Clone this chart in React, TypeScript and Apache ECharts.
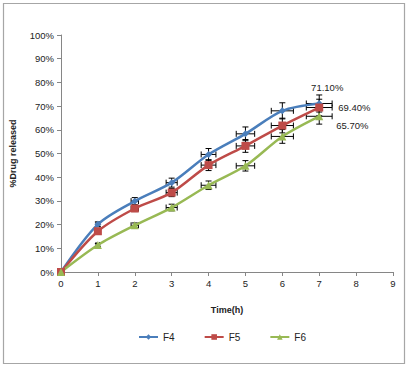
import React, { useEffect, useRef } from "react";
import * as echarts from "echarts";

const hours = [0, 1, 2, 3, 4, 5, 6, 7];
const f4 = [0, 20.1, 29.9, 37.7, 49.6, 58.3, 68.0, 71.1];
const f5 = [0, 17.2, 26.8, 33.5, 45.1, 53.2, 61.8, 69.4];
const f6 = [0, 11.4, 19.7, 27.2, 36.6, 44.8, 57.2, 65.7];
const xErr = [0, 0.05, 0.1, 0.15, 0.2, 0.25, 0.3, 0.35];
const f4Err = [0, 1.0, 1.5, 1.9, 2.5, 2.9, 3.4, 3.6];
const f5Err = [0, 0.9, 1.3, 1.7, 2.3, 2.7, 3.1, 3.5];
const f6Err = [0, 0.6, 1.0, 1.4, 1.8, 2.2, 2.9, 3.3];
const endLabels = ["71.10%", "69.40%", "65.70%"];

const FONT = "Liberation Sans, Arial, sans-serif";

const errSeries = (name: string, vals: number[], errs: number[]) => ({
  type: "custom",
  name,
  z: 1,
  silent: true,
  data: hours.map((h, i) => [h, vals[i], xErr[i], errs[i]]),
  renderItem: (params: any, api: any) => {
    const x = api.value(0), y = api.value(1), xe = api.value(2), ye = api.value(3);
    if (!xe && !ye) return { type: "group", children: [] };
    const l = api.coord([x - xe, y]);
    const r = api.coord([x + xe, y]);
    const t = api.coord([x, y + ye]);
    const b = api.coord([x, y - ye]);
    const style = { stroke: "#000", lineWidth: 1 };
    const c = 3;
    const ln = (x1: number, y1: number, x2: number, y2: number) => ({
      type: "line",
      shape: { x1, y1, x2, y2 },
      style,
    });
    return {
      type: "group",
      children: [
        ln(l[0], l[1], r[0], r[1]),
        ln(l[0], l[1] - c, l[0], l[1] + c),
        ln(r[0], r[1] - c, r[0], r[1] + c),
        ln(t[0], t[1], b[0], b[1]),
        ln(t[0] - c, t[1], t[0] + c, t[1]),
        ln(b[0] - c, b[1], b[0] + c, b[1]),
      ],
    };
  },
});

const lineSeries = (
  name: string,
  vals: number[],
  color: string,
  symbol: string,
  size: number,
  label: string,
  labelPos: string,
  offset: number[]
) => ({
  type: "line",
  name,
  z: 3,
  smooth: 0.3,
  symbol,
  symbolSize: size,
  showAllSymbol: true,
  lineStyle: { color, width: 2.5 },
  itemStyle: { color },
  data: hours.map((h, i) =>
    i === hours.length - 1
      ? {
          value: [h, vals[i]],
          label: {
            show: true,
            formatter: label,
            position: labelPos,
            offset,
            color: "#222",
            fontSize: 9.5,
            fontFamily: FONT,
          },
        }
      : [h, vals[i]]
  ),
});

export default function App() {
  const ref = useRef<HTMLDivElement>(null);
  useEffect(() => {
    if (!ref.current) return;
    const chart = echarts.init(ref.current, null, { renderer: "svg" });
    chart.setOption({
      animation: false,
      backgroundColor: "#fff",
      textStyle: { fontFamily: FONT },
      graphic: [
        {
          type: "rect",
          shape: { x: 3.5, y: 3.5, width: 401, height: 360 },
          style: { fill: "none", stroke: "#a6a6a6", lineWidth: 1.2 },
          silent: true,
        },
      ],
      grid: { left: 59, right: 16, top: 35, bottom: 95, containLabel: false },
      xAxis: {
        type: "value",
        min: 0,
        max: 9,
        interval: 1,
        name: "Time(h)",
        nameLocation: "middle",
        nameGap: 33,
        nameTextStyle: { fontWeight: "bold", fontSize: 9, color: "#222", fontFamily: FONT },
        axisLine: { lineStyle: { color: "#868686" } },
        axisTick: { show: true, length: 4, lineStyle: { color: "#868686" } },
        axisLabel: { fontSize: 9.5, color: "#222", margin: 6, fontFamily: FONT },
        splitLine: { show: false },
      },
      yAxis: {
        type: "value",
        min: 0,
        max: 100,
        interval: 10,
        name: "%Drug released",
        nameLocation: "middle",
        nameGap: 44,
        nameRotate: 90,
        nameTextStyle: { fontWeight: "bold", fontSize: 9, color: "#222", fontFamily: FONT },
        axisLine: { show: true, lineStyle: { color: "#868686" } },
        axisTick: { show: true, length: 4, lineStyle: { color: "#868686" } },
        axisLabel: { fontSize: 9.5, color: "#222", margin: 7, formatter: "{value}%", fontFamily: FONT },
        splitLine: { show: false },
      },
      legend: {
        data: ["F4", "F5", "F6"],
        bottom: 20,
        left: 133,
        padding: 5,
        itemWidth: 19,
        itemHeight: 7,
        itemGap: 29,
        textStyle: { fontSize: 10, color: "#222", fontFamily: FONT },
      },
      series: [
        errSeries("eF4", f4, f4Err),
        errSeries("eF5", f5, f5Err),
        errSeries("eF6", f6, f6Err),
        lineSeries("F4", f4, "#4A7EBB", "diamond", 7, endLabels[0], "top", [8, -2]),
        lineSeries("F5", f5, "#BE4B48", "rect", 8, endLabels[1], "right", [10, 0]),
        lineSeries("F6", f6, "#98B954", "triangle", 8, endLabels[2], "right", [8, 9]),
      ],
    });
    return () => chart.dispose();
  }, []);
  return (
    <div
      ref={ref}
      style={{ position: "absolute", left: 0, top: 0, width: 409, height: 367 }}
    />
  );
}
